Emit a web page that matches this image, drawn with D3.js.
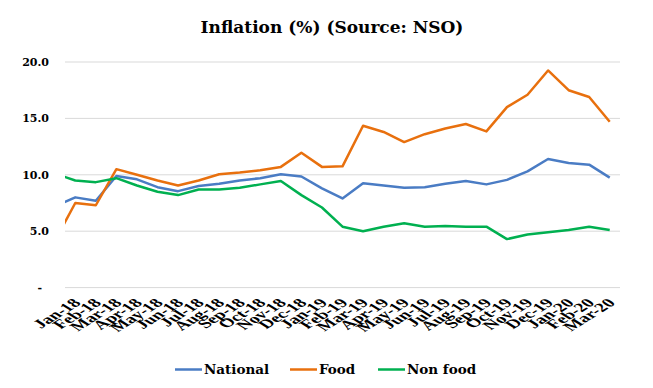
<!DOCTYPE html>
<html>
<head>
<meta charset="utf-8">
<script src="https://cdn.jsdelivr.net/npm/d3@7"></script>
<style>
    body { margin: 0; background: #fff; }
    svg { display: block; }
    .grid line { stroke: #d9d9d9; stroke-width: 1; }
    .axis text { font-weight: bold; fill: #000; }
</style>
</head>
<body>
<div id="chart"></div>
<script>
const months = ["Jan-18", "Feb-18", "Mar-18", "Apr-18", "May-18", "Jun-18", "Jul-18", "Aug-18", "Sep-18",
    "Oct-18", "Nov-18", "Dec-18", "Jan-19", "Feb-19", "Mar-19", "Apr-19", "May-19", "Jun-19", "Jul-19",
    "Aug-19", "Sep-19", "Oct-19", "Nov-19", "Dec-19", "Jan-20", "Feb-20", "Mar-20"];

// first value of each series is Dec-17, which sits just outside the plot and gets clipped
const national = [7.2, 8.0, 7.7, 9.9, 9.6, 8.9, 8.55, 9.0, 9.2, 9.5, 9.7, 10.05, 9.85, 8.8, 7.9, 9.25, 9.05,
    8.85, 8.9, 9.2, 9.45, 9.15, 9.55, 10.3, 11.4, 11.05, 10.9, 9.75];
const food = [4.1, 7.5, 7.3, 10.5, 10.0, 9.5, 9.05, 9.5, 10.05, 10.2, 10.4, 10.7, 11.95, 10.7, 10.75, 14.35,
    13.8, 12.9, 13.6, 14.1, 14.5, 13.85, 16.0, 17.1, 19.25, 17.5, 16.9, 14.7];
const nonFood = [10.1, 9.5, 9.35, 9.7, 9.05, 8.5, 8.2, 8.7, 8.7, 8.85, 9.15, 9.45, 8.2, 7.1, 5.4, 5.0, 5.4,
    5.7, 5.4, 5.45, 5.4, 5.4, 4.3, 4.7, 4.9, 5.1, 5.4, 5.1];

const yTicks = [0, 5, 10, 15, 20];
const seriesNames = ["National", "Food", "Non food"];
const seriesColors = ["#4a7cc4", "#e8700e", "#00b050"];

const width = 653, height = 388;
const plot = {left: 65, right: 620, top: 62, bottom: 287.6};

const svg = d3.select("#chart")
    .append("svg")
    .attr("width", width)
    .attr("height", height);

const x = d3.scalePoint()
    .domain(months)
    .range([plot.left, plot.right])
    .padding(0.5);

const y = d3.scaleLinear()
    .domain([0, 20])
    .range([plot.bottom, plot.top]);

// index -1 is the Dec-17 point left of the first category
const xAt = i => i < 0 ? x(months[0]) - x.step() : x(months[i]);

svg.append("defs").append("clipPath")
    .attr("id", "plot-clip")
    .append("rect")
    .attr("x", plot.left)
    .attr("y", 0)
    .attr("width", plot.right - plot.left)
    .attr("height", height);

// gridlines
svg.append("g")
    .attr("class", "grid")
    .selectAll("line")
    .data(yTicks)
    .enter().append("line")
    .attr("x1", plot.left)
    .attr("x2", plot.right)
    .attr("y1", d => y(d))
    .attr("y2", d => y(d));

// y axis labels
const yAxis = svg.append("g")
    .attr("class", "axis")
    .attr("transform", `translate(${plot.left - 16},0)`)
    .call(d3.axisLeft(y).tickValues(yTicks).tickSize(0).tickPadding(0)
        .tickFormat(d => d === 0 ? "-" : d3.format(".1f")(d)));
yAxis.select(".domain").remove();
yAxis.selectAll("text")
    .style("font-family", "DejaVu Serif, serif")
    .style("font-size", "11px")
    .attr("dx", d => d === 0 ? -7 : 0);

// x axis labels, rotated then stretched sideways like the original
const xAxis = svg.append("g")
    .attr("class", "axis")
    .attr("transform", `translate(0,${plot.bottom})`)
    .call(d3.axisBottom(x).tickSize(0).tickPadding(0));
xAxis.select(".domain").remove();
xAxis.selectAll(".tick text")
    .style("font-family", "Liberation Serif, serif")
    .style("font-size", "12.5px")
    .attr("text-anchor", "end")
    .attr("y", 0)
    .attr("dy", 0)
    .attr("transform", "translate(6,16) scale(1.6,1) rotate(-45)");

// lines
const line = d3.line()
    .x((d, i) => xAt(i - 1))
    .y(d => y(d));

svg.append("g")
    .attr("clip-path", "url(#plot-clip)")
    .selectAll("path")
    .data([national, food, nonFood])
    .enter().append("path")
    .attr("fill", "none")
    .attr("stroke", (d, i) => seriesColors[i])
    .attr("stroke-width", 2.5)
    .attr("stroke-linejoin", "round")
    .attr("d", line);

// title
svg.append("text")
    .attr("x", 332)
    .attr("y", 33)
    .attr("text-anchor", "middle")
    .style("font-family", "DejaVu Serif, serif")
    .style("font-weight", "bold")
    .style("font-size", "17px")
    .text("Inflation (%) (Source: NSO)");

// legend
const legendX = [175, 290, 378];
const legend = svg.append("g")
    .selectAll("g")
    .data(seriesNames)
    .enter().append("g")
    .attr("transform", (d, i) => `translate(${legendX[i]},369.5)`);

legend.append("line")
    .attr("x1", 0)
    .attr("x2", 27)
    .attr("stroke", (d, i) => seriesColors[i])
    .attr("stroke-width", 2.5);

legend.append("text")
    .attr("x", 29)
    .attr("dy", "0.35em")
    .style("font-family", "DejaVu Serif, serif")
    .style("font-weight", "bold")
    .style("font-size", "13.5px")
    .text(d => d);
</script>
</body>
</html>
